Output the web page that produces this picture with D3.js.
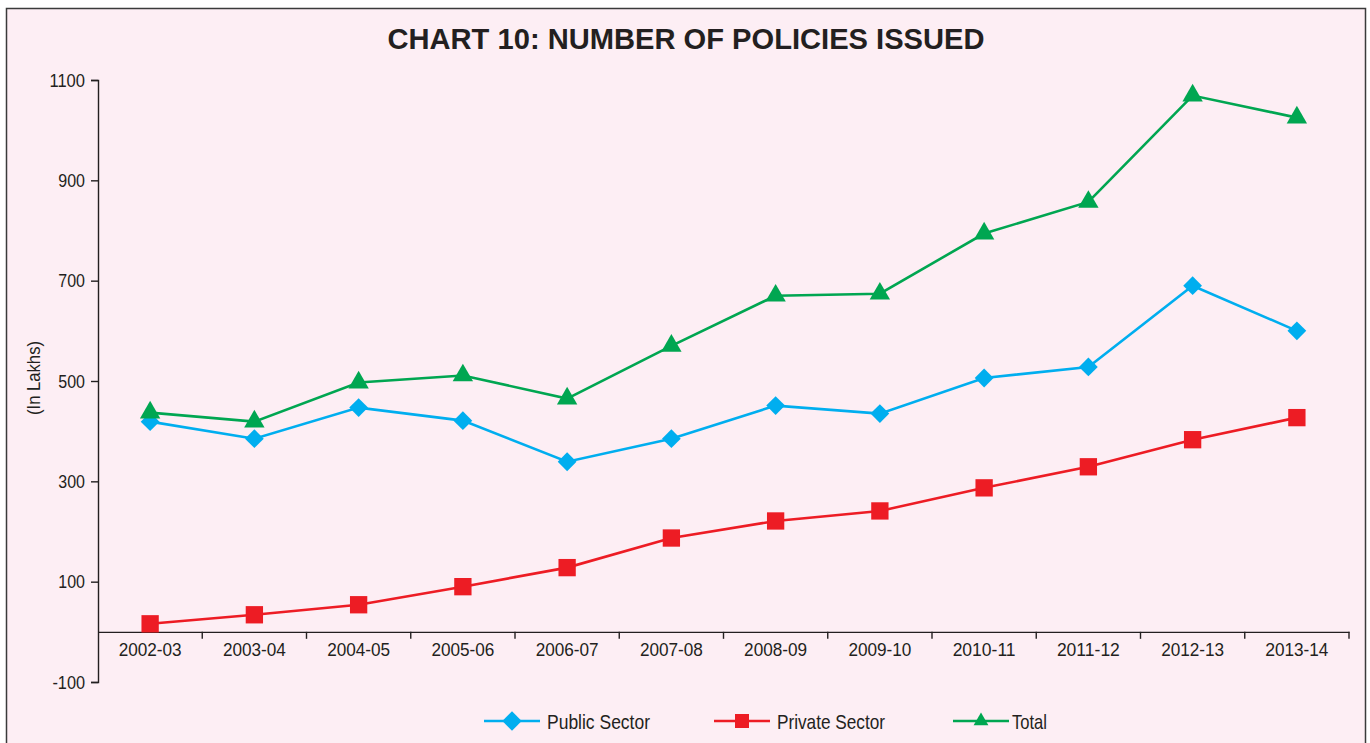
<!DOCTYPE html>
<html><head><meta charset="utf-8">
<script src="https://cdn.jsdelivr.net/npm/d3@7"></script>
<style>
html,body{margin:0;padding:0;background:#fff;}
svg{display:block;}
text{font-family:"Liberation Sans Narrow","Arial Narrow","Liberation Sans",Arial,sans-serif;fill:#231f20;}
</style></head><body>
<svg id="c" width="1370" height="743"></svg>
<script>
const categories = ["2002-03","2003-04","2004-05","2005-06","2006-07","2007-08","2008-09","2009-10","2010-11","2011-12","2012-13","2013-14"];
const publicSector = [419,385,447,421,339,385,451,435,506,528,690,600];
const privateSector = [16,34,54,90,128,187,221,241,287,329,383,427];
const total = [437,419,497,511,465,570,670,674,794,857,1069,1025];
const yTicks = [-100,100,300,500,700,900,1100];
const yTickLabels = ["-100","100","300","500","700","900","1100"];
const seriesNames = ["Public Sector","Private Sector","Total"];

const svg = d3.select("#c");
svg.append("rect").attr("x",6.5).attr("y",8.5).attr("width",1359).attr("height",760)
  .attr("fill","#fdeef4").attr("stroke","#3a3a3a").attr("stroke-width",1.5);

svg.append("text").attr("x",686).attr("y",49).attr("text-anchor","middle")
  .style("font-family","'Liberation Sans',Arial,sans-serif")
  .attr("font-size",29).attr("font-weight","bold").attr("textLength",597).attr("lengthAdjust","spacingAndGlyphs")
  .text("CHART 10: NUMBER OF POLICIES ISSUED");

const x0 = 98, x1 = 1349;
const x = d3.scaleBand().domain(categories).range([x0,x1]);
const y = d3.scaleLinear().domain([-100,1100]).range([682,80]);

// y axis
const yAxis = d3.axisLeft(y).tickValues(yTicks).tickFormat((d,i)=>yTickLabels[i]).tickSize(7).tickPadding(6);
const gy = svg.append("g").attr("transform",`translate(${x0},0)`).call(yAxis);
gy.select(".domain").attr("stroke","#231f20").attr("stroke-width",1.4);
gy.selectAll(".tick line").attr("stroke","#231f20").attr("stroke-width",1.4);
gy.selectAll(".tick text").attr("font-size",19).style("fill","#231f20")
  .style("font-family","'Liberation Sans',Arial,sans-serif")
  .attr("textLength",(d,i)=>yTickLabels[i].length*8.9+(yTickLabels[i][0]==="-"?-3:0))
  .attr("lengthAdjust","spacingAndGlyphs");

// x axis at y=0
const xAxis = d3.axisBottom(x).tickSize(0).tickPadding(11);
const gx = svg.append("g").attr("transform",`translate(0,${y(0)})`).call(xAxis);
gx.select(".domain").attr("stroke","#231f20").attr("stroke-width",1.4);
gx.selectAll(".tick text").attr("font-size",19).style("fill","#231f20")
  .style("font-family","'Liberation Sans',Arial,sans-serif")
  .attr("textLength",63).attr("lengthAdjust","spacingAndGlyphs");
const bounds = categories.map(c=>x(c)).concat([x1]);
svg.append("g").selectAll("line").data(bounds.slice(1)).join("line")
  .attr("x1",d=>d).attr("x2",d=>d).attr("y1",y(0)).attr("y2",y(0)+7)
  .attr("stroke","#231f20").attr("stroke-width",1.4);

svg.append("text").attr("transform",`translate(40,378) rotate(-90)`)
  .style("font-family","'Liberation Sans',Arial,sans-serif")
  .attr("text-anchor","middle").attr("font-size",18).attr("textLength",74).attr("lengthAdjust","spacingAndGlyphs").text("(In Lakhs)");

const cx = c => x(c) + x.bandwidth()/2;
const series = [
  {name:seriesNames[0], vals:publicSector, color:"#00aeef", sym:d3.symbolDiamond2, size:225, lsize:240},
  {name:seriesNames[1], vals:privateSector, color:"#ed1c24", sym:d3.symbolSquare, size:300, lsize:196},
  {name:seriesNames[2], vals:total, color:"#00a651", sym:d3.symbolTriangle, size:180, lsize:95}
];
const line = d3.line().x((d,i)=>cx(categories[i])).y(d=>y(d));
series.forEach(s=>{
  svg.append("path").datum(s.vals).attr("d",line).attr("fill","none")
    .attr("stroke",s.color).attr("stroke-width",2.6);
  svg.append("g").selectAll("path").data(s.vals).join("path")
    .attr("d",d3.symbol().type(s.sym).size(s.size))
    .attr("transform",(d,i)=>`translate(${cx(categories[i])},${y(d)})`)
    .attr("fill",s.color);
});

// legend
const legX = [484, 714, 953];
const legW = [103, 108, 35];
series.forEach((s,i)=>{
  const g = svg.append("g").attr("transform",`translate(${legX[i]},721)`);
  g.append("line").attr("x1",0).attr("x2",56).attr("stroke",s.color).attr("stroke-width",2.6);
  g.append("path").attr("d",d3.symbol().type(s.sym).size(s.lsize)).attr("transform","translate(28,0)").attr("fill",s.color);
  g.append("text").attr("x",i===2?59:63).attr("y",7.5).attr("font-size",21)
    .style("font-family","'Liberation Sans',Arial,sans-serif")
    .attr("textLength",legW[i]).attr("lengthAdjust","spacingAndGlyphs").text(s.name);
});
</script></body></html>
